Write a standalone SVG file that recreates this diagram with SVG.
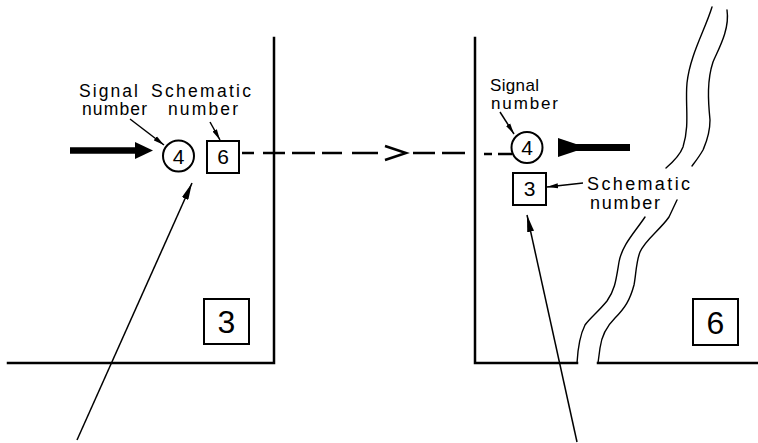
<svg xmlns="http://www.w3.org/2000/svg" width="758" height="443" viewBox="0 0 758 443">
<defs>
<style>
.pl{stroke:#000;stroke-width:2.5;fill:none;stroke-linecap:square}
.thin{stroke:#000;stroke-width:1.5;fill:none}
.wave{stroke:#000;stroke-width:1.4;fill:none;stroke-linecap:round}
.dash{stroke:#000;stroke-width:2.5;fill:none}
.box{stroke:#000;stroke-width:2;fill:#fff}
.lbl{font-family:"Liberation Sans",Arial,sans-serif;fill:#000}
.num{font-family:"Liberation Sans",Arial,sans-serif;fill:#000;text-anchor:middle}
</style>
<marker id="ahS" viewBox="0 0 11 6" refX="11" refY="3" markerWidth="11" markerHeight="6" markerUnits="userSpaceOnUse" orient="auto">
<path d="M0,0.5 L11,3 L0,5.5 z" fill="#000"/>
</marker>
<marker id="ahL" viewBox="0 0 17 7" refX="17" refY="3.5" markerWidth="17" markerHeight="7" markerUnits="userSpaceOnUse" orient="auto">
<path d="M0,0 L17,3.5 L0,7 z" fill="#000"/>
</marker>
</defs>
<rect width="758" height="443" fill="#fff"/>

<g id="panel-left">
<path class="pl" d="M274,38 V363 H8"/>
<rect class="box" x="204" y="299" width="45" height="45"/>
<text class="num" x="226.5" y="333" font-size="32">3</text>
</g>

<g id="panel-right">
<path class="pl" d="M475,38 V363 H577"/>
<path class="pl" d="M598,363 H758"/>
<path class="wave" d="M712,7 C705,30 690,55 687,83 C685,105 690,125 683,147 C680,155 673,162 666,168"/>
<path class="wave" d="M645,217 C635,232 622,245 619,262 C616,280 615,290 607,301 C598,312 590,318 585,325 C580,335 578,345 577,363"/>
<path class="wave" d="M727,10 C730,30 718,50 713,62 C707,80 708,100 710,120 C710,135 705,145 703,150 C699,157 695,162 692,166"/>
<path class="wave" d="M677,200 L669,217 C660,230 645,240 640,252 C636,262 636,275 634,285 C630,300 625,308 615,318 C605,328 601,340 600,348 L598,363"/>
<rect class="box" x="693" y="299" width="45" height="46"/>
<text class="num" x="715.5" y="334" font-size="32">6</text>
</g>

<g id="signal-left">
<circle class="box" cx="178.5" cy="156" r="15.5"/>
<text class="num" x="178.5" y="163.5" font-size="21">4</text>
</g>

<g id="schematic-left">
<rect class="box" x="207" y="141" width="32" height="32"/>
<text class="num" x="223" y="164" font-size="21">6</text>
</g>

<g id="signal-right">
<circle class="box" cx="527" cy="147.5" r="15.5"/>
<text class="num" x="527" y="155" font-size="21">4</text>
</g>

<g id="schematic-right">
<rect class="box" x="513" y="173" width="33" height="32"/>
<text class="num" x="529.5" y="196" font-size="21">3</text>
</g>

<g id="labels">
<text class="lbl" font-size="17.5"><tspan x="79" y="96.5" textLength="59" lengthAdjust="spacing">Signal</tspan><tspan x="82" y="115" textLength="65" lengthAdjust="spacing">number</tspan></text>
<text class="lbl" font-size="17.5"><tspan x="151" y="96.5" textLength="100" lengthAdjust="spacing">Schematic</tspan><tspan x="168" y="115" textLength="70" lengthAdjust="spacing">number</tspan></text>
<text class="lbl" font-size="17"><tspan x="490" y="91" textLength="49" lengthAdjust="spacing">Signal</tspan><tspan x="491" y="109" textLength="67" lengthAdjust="spacing">number</tspan></text>
<text class="lbl" font-size="18"><tspan x="587" y="189.5" textLength="103" lengthAdjust="spacing">Schematic</tspan><tspan x="590" y="208.5" textLength="70" lengthAdjust="spacing">number</tspan></text>
</g>

<g id="connectors">
<line x1="70" y1="150.5" x2="137" y2="150.5" stroke="#000" stroke-width="6.5"/>
<path d="M135,142 L153,150.5 L135,159 z" fill="#000"/>
<path d="M558,138 L576,144 L630,144 L630,151 L576,151 L558,157 z" fill="#000"/>
<path class="dash" d="M242,153 H254 M263,153 H285 M292,153 H315 M322,153 H342 M352,153 H378 M413,153 H435 M442,153 H465 M484,154 H492 M498,154 H512"/>
<path class="dash" d="M385,146 L406,153 L385,160" stroke-linejoin="miter"/>
<line class="thin" x1="130" y1="119" x2="164" y2="145" marker-end="url(#ahS)"/>
<line class="thin" x1="210" y1="122" x2="220" y2="140" marker-end="url(#ahS)"/>
<line class="thin" x1="500" y1="112" x2="514" y2="134" marker-end="url(#ahS)"/>
<line class="thin" x1="583" y1="183" x2="547" y2="187" marker-end="url(#ahS)"/>
<line class="thin" x1="77" y1="440" x2="192" y2="183" marker-end="url(#ahL)"/>
<line class="thin" x1="577" y1="442" x2="527" y2="215" marker-end="url(#ahL)"/>
</g>
</svg>
